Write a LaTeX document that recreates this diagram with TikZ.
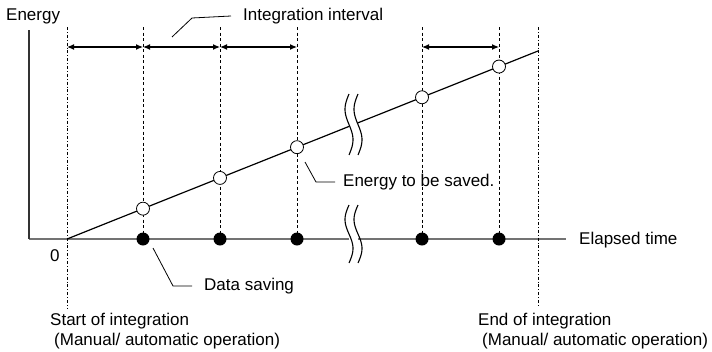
\documentclass[tikz,border=0pt]{standalone}
\usepackage{fontspec}
\setmainfont{Liberation Sans}
\usetikzlibrary{arrows.meta,positioning,calc}
\tikzset{
  axis/.style    ={draw=black!55, line width=1.6pt},
  yaxis/.style   ={draw=black!80, line width=1.1pt},
  energy/.style  ={draw=black, line width=1.2pt},
  guide/.style   ={draw=black, line width=0.8pt, dash pattern=on 3pt off 2.5pt},
  limit/.style   ={draw=black, line width=0.8pt, dash pattern=on 3pt off 2pt on 0.8pt off 2pt},
  span/.style    ={{Latex[length=7pt,width=6pt]}-{Latex[length=7pt,width=6pt]}, line width=1.2pt},
  leader/.style  ={draw=black, line width=0.8pt},
  brk/.style     ={draw=black, line width=1.1pt},
  saved/.style   ={circle, draw=black, line width=0.8pt, fill=white, inner sep=0pt, minimum size=13pt},
  savept/.style  ={circle, fill=black, inner sep=0pt, minimum size=13pt},
  lbl/.style     ={font=\fontsize{17}{20}\selectfont, inner sep=0pt, anchor=west},
}
\begin{document}
\begin{tikzpicture}[x=1pt,y=-1pt]
    \useasboundingbox (0,0) rectangle (712,351);

    % axes
    \coordinate (ytop) at (29,30);
    \coordinate (orig) at (29,239);
    \coordinate (xend) at (566,239);
    \coordinate (zero) at (67,239);
    \coordinate (xb1) at (349,239);
    \coordinate (xb2) at (358,239);
    \draw[axis] (orig) -- (xb1);
    \draw[axis] (xb2) -- (xend);
    \draw[yaxis] (ytop) -- (orig);

    % start / end of integration
    \coordinate (st) at (67,27);
    \coordinate (sb) at (67,308);
    \coordinate (et) at (538,27);
    \coordinate (eb) at (538,306);
    \draw[limit] (st) -- (sb);
    \draw[limit] (et) -- (eb);

    % saving points
    \foreach \i/\x in {1/143,2/220,3/297,4/422,5/499} {
        \coordinate (t\i) at (\x,27);
        \coordinate (c\i) at (\x,{239-0.3992*(\x-67)});
        \coordinate (b\i) at (\x,239);
        \draw[guide] (t\i) -- (b\i);
    }

    % energy line
    \coordinate (eb1) at (349,{239-0.3992*(349-67)});
    \coordinate (eb2) at (358,{239-0.3992*(358-67)});
    \coordinate (eend) at (538,51);
    \draw[energy] (zero) -- (c1) -- (c2) -- (c3) -- (eb1);
    \draw[energy] (eb2) -- (c4) -- (c5) -- (eend);

    % break marks
    \foreach \bx in {349,358} {
        \draw[brk] plot[domain=0:1, samples=30, variable=\t, smooth]
            ({\bx-4*sin(360*\t)}, {94+61*\t});
        \draw[brk] plot[domain=0:1, samples=30, variable=\t, smooth]
            ({\bx-4*sin(360*\t)}, {205+58*\t});
    }

    \foreach \i in {1,...,5} {
        \node[saved] (e\i) at (c\i) {};
        \node[savept] (d\i) at (b\i) {};
    }

    % integration intervals
    \coordinate (a0) at (67,47);
    \foreach \i/\x in {1/143,2/220,3/297,4/422,5/499}
        \coordinate (a\i) at (\x,47);
    \foreach \a/\b in {a0/a1,a1/a2,a2/a3,a4/a5}
        \draw[span] (\a) -- (\b);

    % labels
    \node[lbl] (lenergy) at (6,16) {Energy};
    \node[lbl] (lzero) at (50,256) {0};
    \node[lbl] (ltime) at (579,240) {Elapsed time};
    \node[lbl] (linterval) at (243,16) {Integration interval};
    \node[lbl] (lsaved) at (343,182) {Energy to be saved.};
    \node[lbl] (lsaving) at (204,286) {Data saving};
    \node[lbl] (lstart1) at (50,321) {Start of integration};
    \node[lbl] (lstart2) at (54,341) {(Manual/ automatic operation)};
    \node[lbl] (lend1) at (478,321) {End of integration};
    \node[lbl] (lend2) at (482,341) {(Manual/ automatic operation)};

    % leaders
    \coordinate (ki) at (172,37);
    \coordinate (kib) at (192,18);
    \draw[leader] (ki) -- (kib) -- ($(linterval.west)+(-12,0)$);
    \coordinate (ks) at (305,162);
    \coordinate (ksb) at (316,182);
    \draw[leader] (ks) -- (ksb) -- ($(lsaved.west)+(-8,0)$);
    \coordinate (kd) at (153,248);
    \coordinate (kdb) at (173,286);
    \draw[leader] (kd) -- (kdb) -- ($(lsaving.west)+(-12,0)$);
\end{tikzpicture}
\end{document}
